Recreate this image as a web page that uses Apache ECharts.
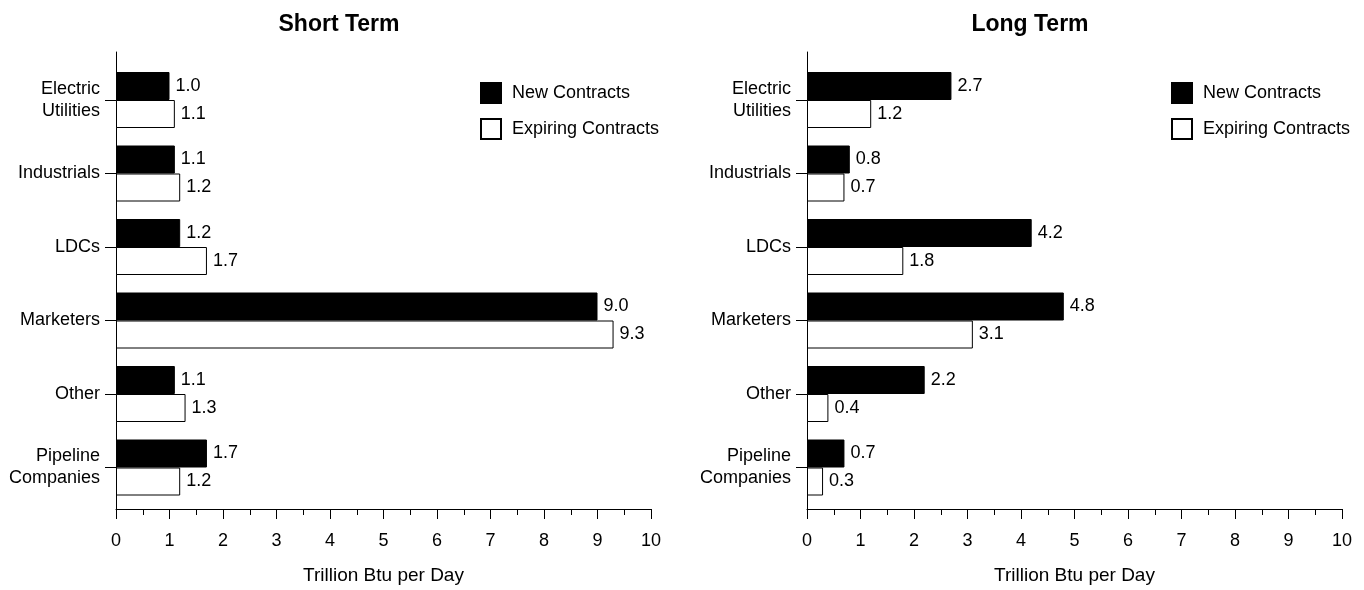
<!DOCTYPE html>
<html>
<head>
<meta charset="utf-8">
<script src="https://cdn.jsdelivr.net/npm/echarts@6/dist/echarts.min.js"></script>
<style>
html,body{margin:0;padding:0;background:#fff;}
#chart{width:1364px;height:590px;}
</style>
</head>
<body>
<div id="chart"></div>
<script>
const categories = ['Electric\nUtilities', 'Industrials', 'LDCs', 'Marketers', 'Other', 'Pipeline\nCompanies'];
const shortNew = [1.0, 1.1, 1.2, 9.0, 1.1, 1.7];
const shortExpiring = [1.1, 1.2, 1.7, 9.3, 1.3, 1.2];
const longNew = [2.7, 0.8, 4.2, 4.8, 2.2, 0.7];
const longExpiring = [1.2, 0.7, 1.8, 3.1, 0.4, 0.3];
const panelTitles = ['Short Term', 'Long Term'];
const seriesNames = ['New Contracts', 'Expiring Contracts'];
const axisName = 'Trillion Btu per Day';
const xMin = 0, xMax = 10, xInterval = 1;

const FONT = "'Liberation Sans', Arial, Helvetica, sans-serif";
const chart = echarts.init(document.getElementById('chart'), null, {renderer: 'canvas'});

const panelLeft = [116, 807];
const panelWidth = 535;
const titleX = [334, 1025];
const legendX = [480, 1171];

const grids = [], xAxes = [], yAxes = [], titles = [], legends = [], series = [];
const panelData = [[shortNew, shortExpiring], [longNew, longExpiring]];

for (let p = 0; p < 2; p++) {
  // outer grid: frame axes
  grids.push({left: panelLeft[p], width: panelWidth, top: 52, height: 463, containLabel: false});
  // inner grid: category band
  grids.push({left: panelLeft[p], width: panelWidth, top: 63.25, height: 441, containLabel: false});
  const go = p * 2, gi = p * 2 + 1;
  xAxes.push({
    gridIndex: go, type: 'value', min: xMin, max: xMax, interval: xInterval,
    axisLine: {show: true, lineStyle: {color: '#000', width: 1}},
    axisTick: {show: true, length: 10, lineStyle: {color: '#000'}},
    minorTick: {show: true, splitNumber: 2, length: 6, lineStyle: {color: '#000'}},
    splitLine: {show: false}, minorSplitLine: {show: false},
    axisLabel: {fontSize: 18, color: '#000', fontFamily: FONT, margin: 23},
    name: axisName, nameLocation: 'middle', nameGap: 57,
    nameTextStyle: {fontSize: 19, color: '#000', fontFamily: FONT}
  });
  xAxes.push({gridIndex: gi, type: 'value', min: xMin, max: xMax, interval: xInterval, show: false});
  yAxes.push({
    gridIndex: go, type: 'value', min: 0, max: 1,
    axisLine: {show: true, onZero: false, lineStyle: {color: '#000', width: 1}},
    axisTick: {show: false}, axisLabel: {show: false}, splitLine: {show: false}
  });
  yAxes.push({
    gridIndex: gi, type: 'category', data: categories, inverse: true,
    axisLine: {show: false},
    axisTick: {show: true, alignWithLabel: true, length: 11, lineStyle: {color: '#000'}},
    axisLabel: {fontSize: 18, color: '#000', fontFamily: FONT, margin: 16, lineHeight: 22, align: 'right'},
    splitLine: {show: false}
  });
  titles.push({
    text: panelTitles[p], left: titleX[p], top: 8, textAlign: 'center',
    textStyle: {fontSize: 23, fontWeight: 'bold', color: '#000', fontFamily: FONT}
  });
  legends.push({
    data: seriesNames, orient: 'vertical', left: legendX[p], top: 82, padding: 0,
    itemWidth: 20, itemHeight: 20, itemGap: 14, icon: 'rect',
    textStyle: {fontSize: 18, color: '#000', fontFamily: FONT, padding: [0, 0, 0, 6]},
    selectedMode: false
  });
  const [nv, ev] = panelData[p];
  const labelCfg = {
    show: true, position: 'right', distance: 6,
    fontSize: 18, color: '#000', fontFamily: FONT,
    formatter: (d) => d.value.toFixed(1)
  };
  series.push({
    name: seriesNames[0], type: 'bar', xAxisIndex: gi, yAxisIndex: gi,
    data: nv, barWidth: 28, barGap: 0,
    itemStyle: {color: '#000', borderColor: '#000', borderWidth: 1},
    label: labelCfg
  });
  series.push({
    name: seriesNames[1], type: 'bar', xAxisIndex: gi, yAxisIndex: gi,
    data: ev, barWidth: 28, barGap: 0,
    itemStyle: {color: '#fff', borderColor: '#000', borderWidth: 1},
    label: labelCfg
  });
}

chart.setOption({
  animation: false,
  backgroundColor: '#fff',
  textStyle: {fontFamily: FONT},
  title: titles,
  legend: legends,
  grid: grids,
  xAxis: xAxes,
  yAxis: yAxes,
  series: series
});
</script>
</body>
</html>
